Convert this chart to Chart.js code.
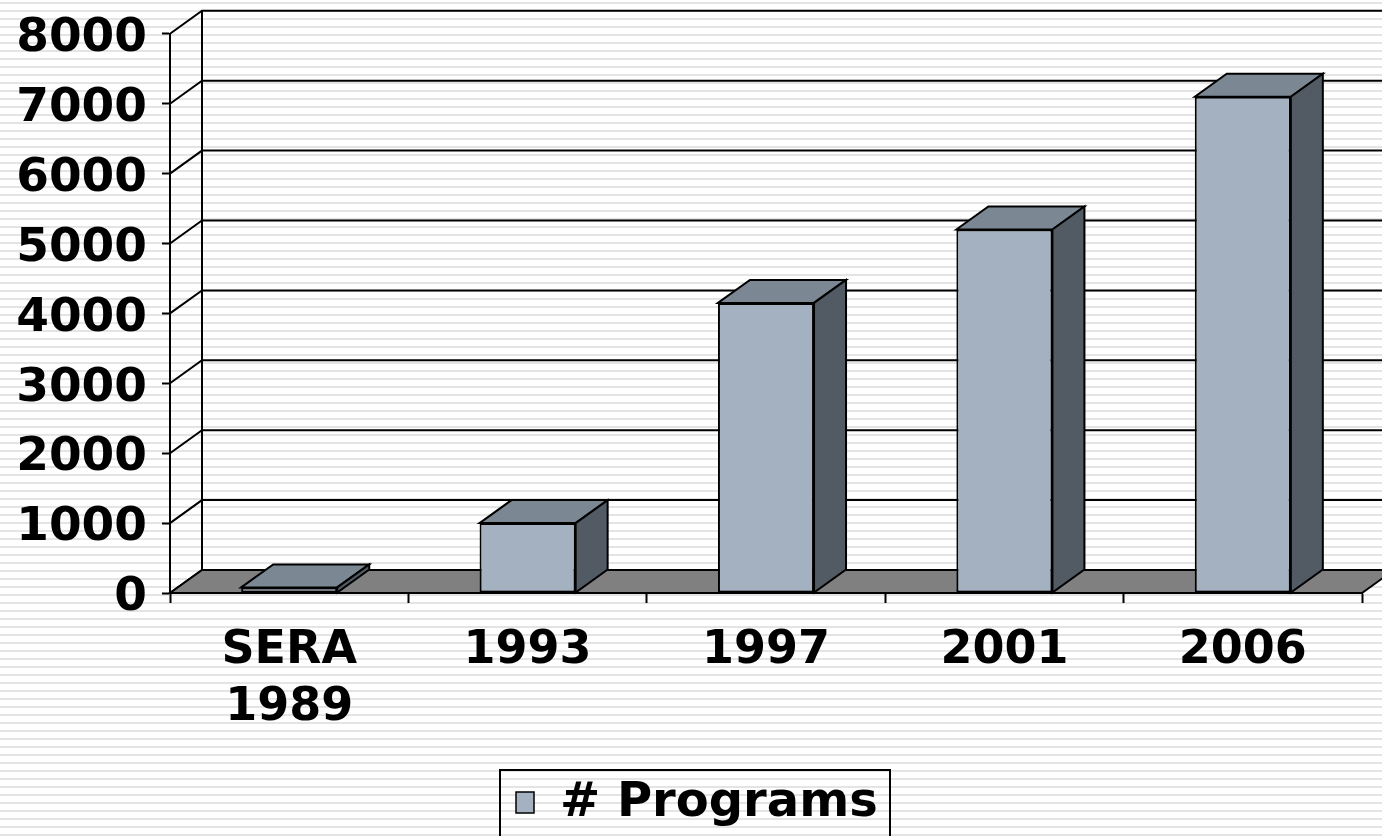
<!DOCTYPE html>
<html lang="en">
<head>
    <meta charset="UTF-8">
    <title># Programs</title>
    <script src="https://cdn.jsdelivr.net/npm/chart.js"></script>
    <style>
        html, body {
            margin: 0;
            padding: 0;
            overflow: hidden;
        }

        body {
            /* thin grey stripes behind the whole chart */
            background: repeating-linear-gradient(to bottom,
                #ffffff 0px, #ffffff 2px,
                #e4e4e4 2px, #e4e4e4 4px,
                #ffffff 4px, #ffffff 8px);
        }

        .chart-container {
            width: 1382px;
            height: 836px;
        }
    </style>
</head>
<body>
    <div class="chart-container">
        <canvas id="programsChart"></canvas>
    </div>
    <script>
        var categories = [['SERA', '1989'], '1993', '1997', '2001', '2006'];
        var programCounts = [80, 1000, 4150, 5200, 7100];
        var seriesName = '# Programs';
        var yMin = 0;
        var yMax = 8000;
        var yStep = 1000;

        var frontColor = '#a3b1c0';
        var topColor = '#7b8894';
        var sideColor = '#525a63';
        var floorColor = '#808080';
        var depthX = 32;
        var depthY = 23;
        var fontFamily = '"DejaVu Sans", Verdana, sans-serif';

        function poly(ctx, pts, fill) {
            ctx.beginPath();
            ctx.moveTo(pts[0][0], pts[0][1]);
            for (var i = 1; i < pts.length; i++) ctx.lineTo(pts[i][0], pts[i][1]);
            ctx.closePath();
            if (fill) {
                ctx.fillStyle = fill;
                ctx.fill();
            }
            ctx.stroke();
        }

        // walls, gridlines and floor, then top/side faces of the bars
        var box3d = {
            id: 'box3d',
            beforeDatasetsDraw: function(chart) {
                var ctx = chart.ctx;
                var ys = chart.scales.y;
                var area = chart.chartArea;
                var base = ys.getPixelForValue(yMin);
                var top = ys.getPixelForValue(yMax);
                ctx.save();
                ctx.strokeStyle = '#000';
                ctx.lineWidth = 2;
                ys.ticks.forEach(function(t) {
                    var py = ys.getPixelForValue(t.value);
                    ctx.beginPath();
                    ctx.moveTo(area.left, py);
                    ctx.lineTo(area.left + depthX, py - depthY);
                    if (t.value !== yMin) ctx.lineTo(chart.width + depthX, py - depthY);
                    ctx.stroke();
                });
                ctx.beginPath();
                ctx.moveTo(area.left + depthX, top - depthY);
                ctx.lineTo(area.left + depthX, base - depthY);
                ctx.stroke();
                poly(ctx, [
                    [area.left, base],
                    [area.right, base],
                    [area.right + depthX, base - depthY],
                    [area.left + depthX, base - depthY]
                ], floorColor);
                ctx.restore();
            },
            afterDatasetsDraw: function(chart) {
                var ctx = chart.ctx;
                var meta = chart.getDatasetMeta(0);
                ctx.save();
                ctx.strokeStyle = '#000';
                ctx.lineWidth = 2;
                meta.data.forEach(function(bar) {
                    var p = bar.getProps(['x', 'y', 'base', 'width'], true);
                    var l = p.x - p.width / 2;
                    var r = p.x + p.width / 2;
                    poly(ctx, [[l, p.y], [l + depthX, p.y - depthY], [r + depthX, p.y - depthY], [r, p.y]], topColor);
                    poly(ctx, [[r, p.y], [r + depthX, p.y - depthY], [r + depthX, p.base - depthY], [r, p.base]], sideColor);
                });
                ctx.restore();
            },
            afterDraw: function(chart) {
                // boxed legend under the axis
                var ctx = chart.ctx;
                ctx.save();
                ctx.strokeStyle = '#000';
                ctx.lineWidth = 2;
                ctx.strokeRect(500, 770, 390, 90);
                ctx.lineWidth = 1.5;
                ctx.fillStyle = frontColor;
                ctx.fillRect(516, 792, 18, 21);
                ctx.strokeRect(516, 792, 18, 21);
                ctx.fillStyle = '#000';
                ctx.font = 'bold 48px ' + fontFamily;
                ctx.textBaseline = 'alphabetic';
                ctx.fillText(chart.data.datasets[0].label, 560, 816);
                ctx.restore();
            }
        };

        var ctx = document.getElementById('programsChart').getContext('2d');
        new Chart(ctx, {
            type: 'bar',
            data: {
                labels: categories,
                datasets: [{
                    label: seriesName,
                    data: programCounts,
                    backgroundColor: frontColor,
                    borderColor: '#000',
                    borderWidth: 2,
                    borderSkipped: false,
                    categoryPercentage: 1,
                    barPercentage: 0.403
                }]
            },
            options: {
                responsive: true,
                maintainAspectRatio: false,
                animation: false,
                layout: { padding: { top: 33, right: 20, left: 0, bottom: 0 } },
                plugins: {
                    legend: { display: false },
                    tooltip: { enabled: false }
                },
                scales: {
                    x: {
                        grid: {
                            offset: true,
                            drawOnChartArea: false,
                            drawTicks: true,
                            tickLength: 10,
                            tickColor: '#000',
                            tickWidth: 2
                        },
                        border: { display: true, color: '#000', width: 2 },
                        ticks: {
                            color: '#000',
                            font: { family: fontFamily, size: 46, weight: 'bold', lineHeight: 1.25 },
                            padding: 19,
                            autoSkip: false,
                            maxRotation: 0
                        },
                        afterFit: function(scale) { scale.height = 243; }
                    },
                    y: {
                        min: yMin,
                        max: yMax,
                        grid: {
                            drawOnChartArea: false,
                            drawTicks: true,
                            tickLength: 8,
                            tickColor: '#000',
                            tickWidth: 2
                        },
                        border: { display: true, color: '#000', width: 2 },
                        ticks: {
                            stepSize: yStep,
                            color: '#000',
                            font: { family: fontFamily, size: 47, weight: 'bold', lineHeight: 0.8 },
                            padding: 15,
                            labelOffset: 5,
                            callback: function(v) { return String(v); }
                        },
                        afterFit: function(scale) { scale.width = 170; }
                    }
                }
            },
            plugins: [box3d]
        });
    </script>
</body>
</html>
